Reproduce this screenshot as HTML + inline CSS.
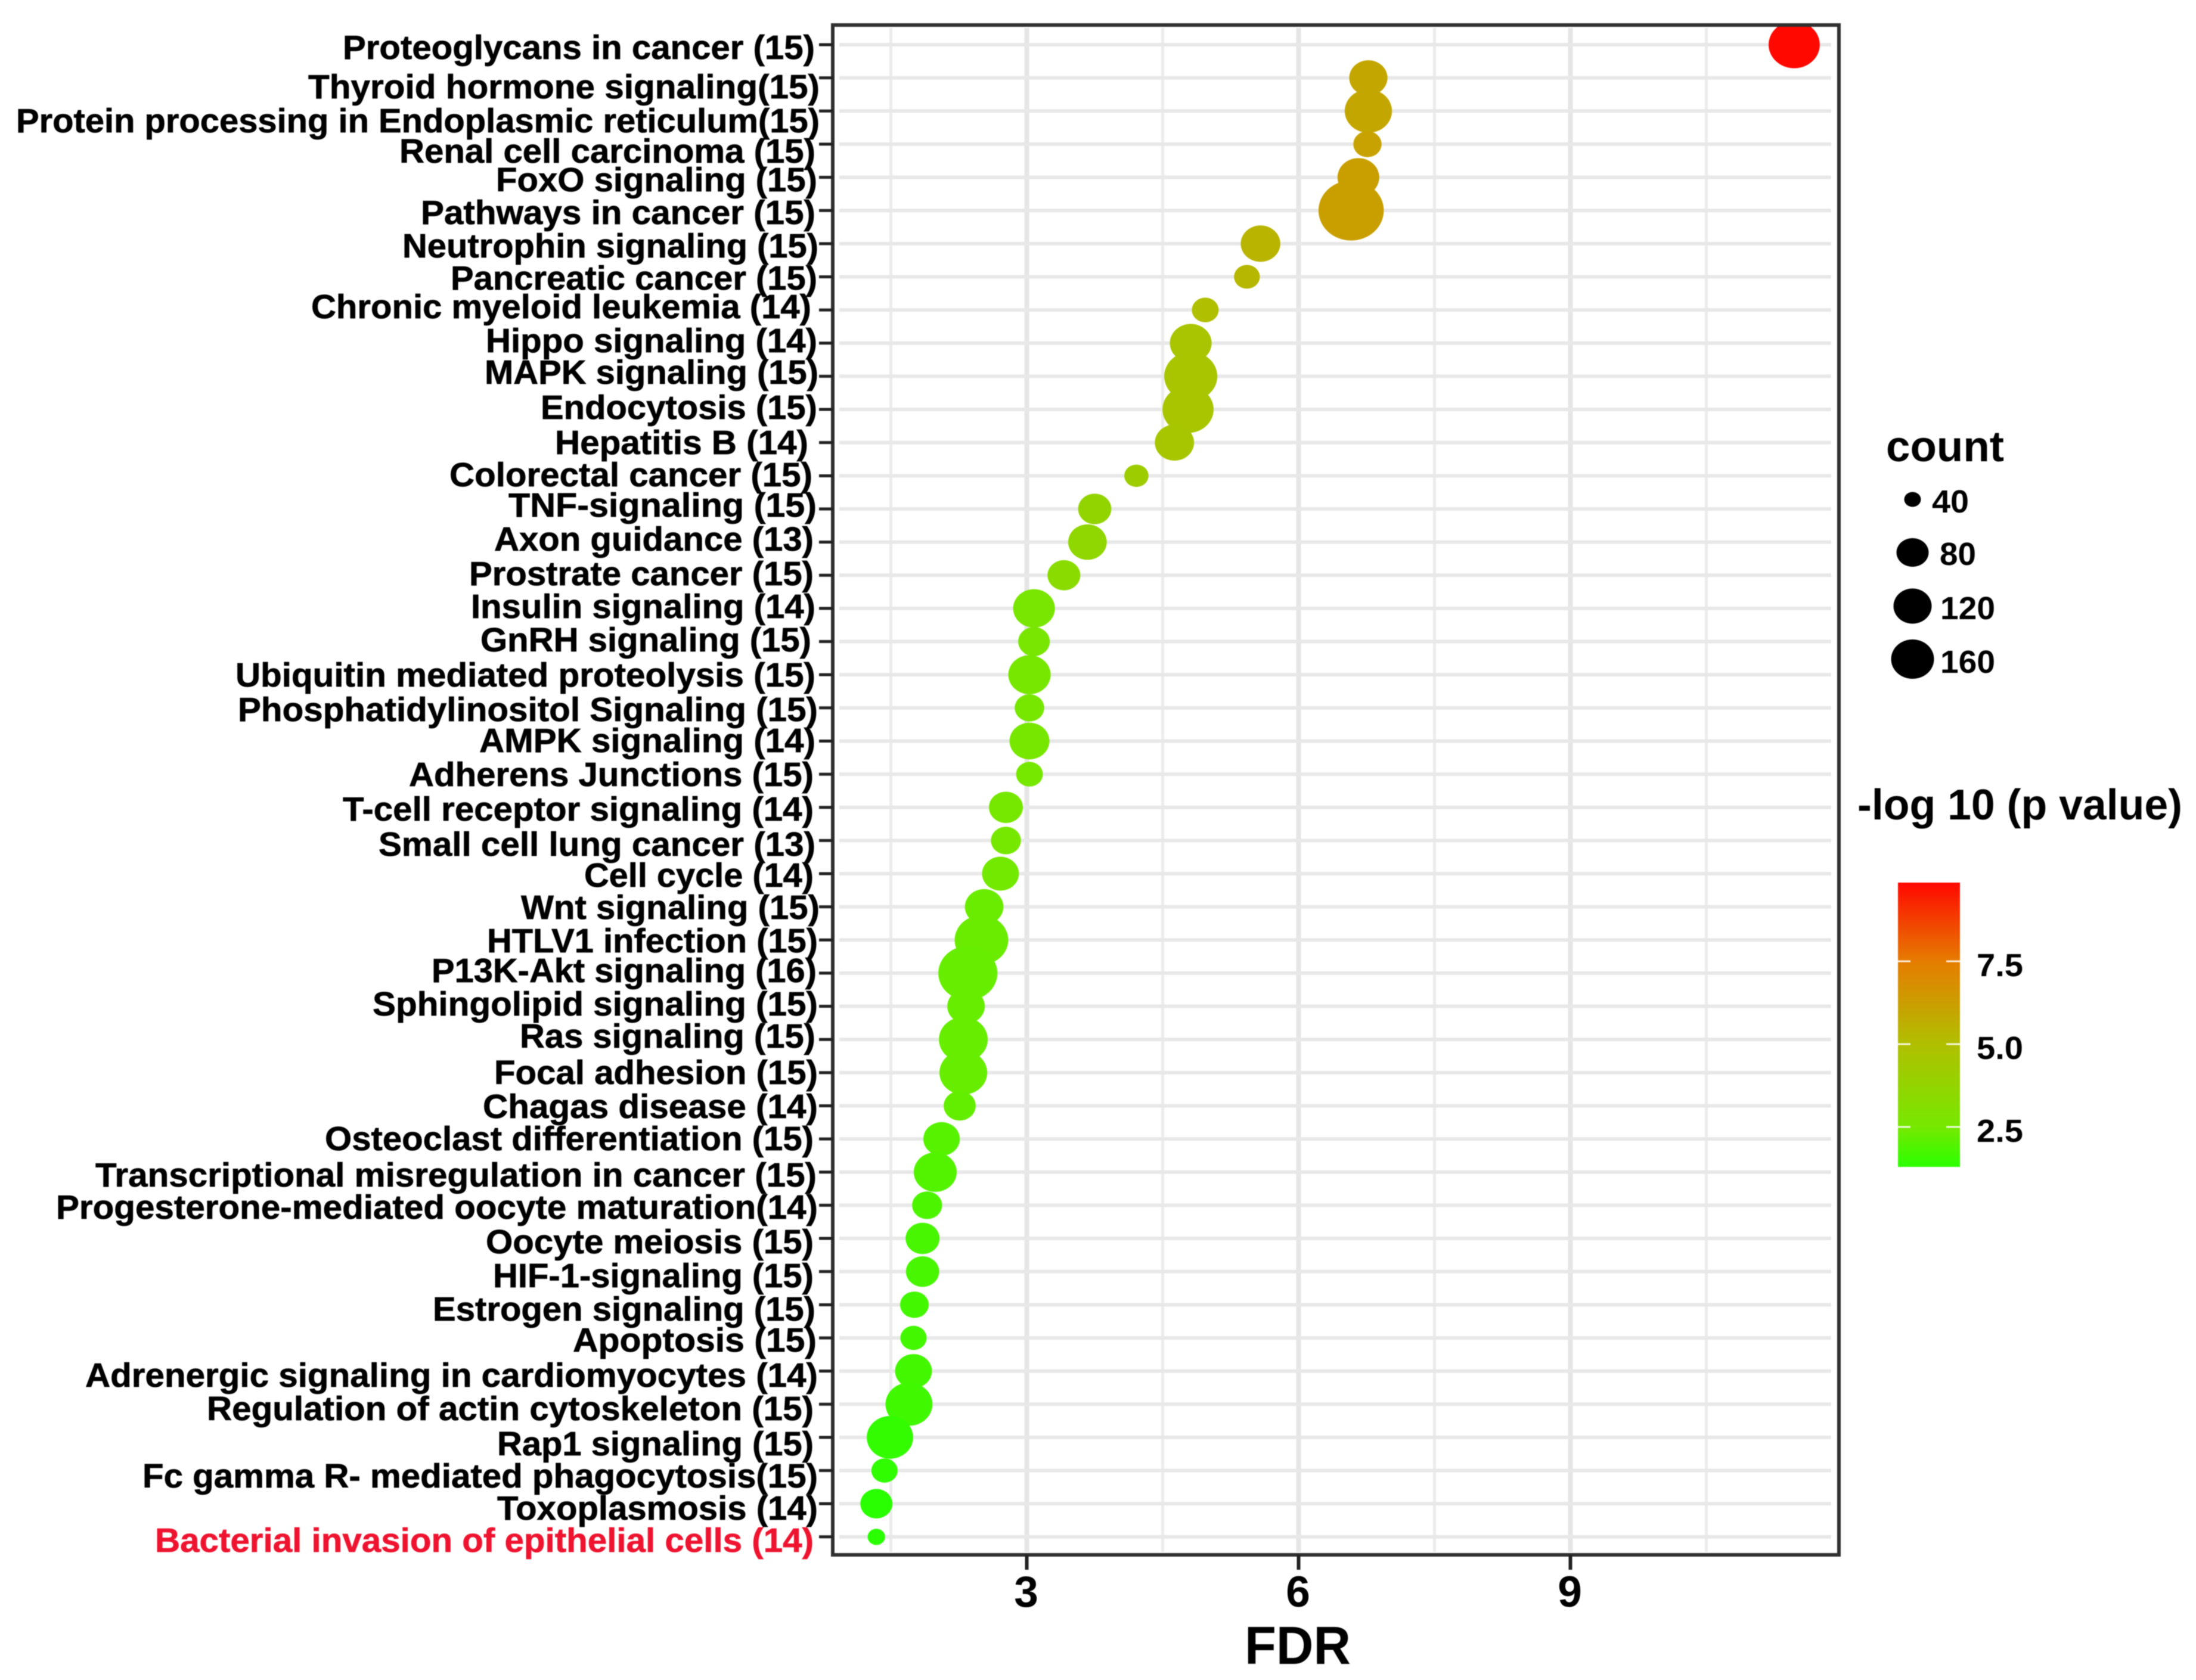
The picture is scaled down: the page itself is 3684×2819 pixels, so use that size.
<!DOCTYPE html>
<html lang="en">
<head>
<meta charset="utf-8">
<title>KEGG pathway enrichment dot plot</title>
<style>
html,body{margin:0;padding:0;background:#fff;}
svg{display:block;filter:blur(0.9px);}
text{font-family:"Liberation Sans",Arial,sans-serif;font-weight:bold;fill:#000;}
#y-labels text{font-size:57px;text-anchor:end;stroke:#000;stroke-width:0.7px;}
#y-labels text.red-label{fill:#ee1430;stroke:#ee1430;}
</style>
</head>
<body>
<svg id="chart" xmlns="http://www.w3.org/2000/svg" width="3684" height="2819" viewBox="0 0 3684 2819">
<defs>
<clipPath id="panel-clip"><rect x="1397" y="42" width="1688" height="2567"/></clipPath>
<linearGradient id="bar-gradient" x1="0" y1="1" x2="0" y2="0"></linearGradient>
</defs>
<rect width="3684" height="2819" fill="#fff"/>
<g id="grid"></g>
<g id="dots" clip-path="url(#panel-clip)"></g>
<rect x="1397" y="42" width="1688" height="2567" fill="none" stroke="#303030" stroke-width="6"/>
<g id="ticks"></g>

<g id="y-labels">
<text x="1367" y="99" textLength="792" lengthAdjust="spacingAndGlyphs">Proteoglycans in cancer (15)</text>
<text x="1375" y="165" textLength="858" lengthAdjust="spacingAndGlyphs">Thyroid hormone signaling(15)</text>
<text x="1375" y="222" textLength="1348" lengthAdjust="spacingAndGlyphs">Protein processing in Endoplasmic reticulum(15)</text>
<text x="1368" y="273" textLength="698" lengthAdjust="spacingAndGlyphs">Renal cell carcinoma (15)</text>
<text x="1371" y="321" textLength="539" lengthAdjust="spacingAndGlyphs">FoxO signaling (15)</text>
<text x="1368" y="376" textLength="662" lengthAdjust="spacingAndGlyphs">Pathways in cancer (15)</text>
<text x="1373" y="432" textLength="698" lengthAdjust="spacingAndGlyphs">Neutrophin signaling (15)</text>
<text x="1371" y="486" textLength="615" lengthAdjust="spacingAndGlyphs">Pancreatic cancer (15)</text>
<text x="1361" y="534" textLength="839" lengthAdjust="spacingAndGlyphs">Chronic myeloid leukemia (14)</text>
<text x="1371" y="591" textLength="556" lengthAdjust="spacingAndGlyphs">Hippo signaling (14)</text>
<text x="1373" y="644" textLength="560" lengthAdjust="spacingAndGlyphs">MAPK signaling (15)</text>
<text x="1371" y="703" textLength="464" lengthAdjust="spacingAndGlyphs">Endocytosis (15)</text>
<text x="1356" y="762" textLength="425" lengthAdjust="spacingAndGlyphs">Hepatitis B (14)</text>
<text x="1363" y="816" textLength="609" lengthAdjust="spacingAndGlyphs">Colorectal cancer (15)</text>
<text x="1370" y="867" textLength="517" lengthAdjust="spacingAndGlyphs">TNF-signaling (15)</text>
<text x="1365" y="924" textLength="536" lengthAdjust="spacingAndGlyphs">Axon guidance (13)</text>
<text x="1365" y="982" textLength="578" lengthAdjust="spacingAndGlyphs">Prostrate cancer (15)</text>
<text x="1368" y="1037" textLength="578" lengthAdjust="spacingAndGlyphs">Insulin signaling (14)</text>
<text x="1361" y="1093" textLength="555" lengthAdjust="spacingAndGlyphs">GnRH signaling (15)</text>
<text x="1368" y="1152" textLength="973" lengthAdjust="spacingAndGlyphs">Ubiquitin mediated proteolysis (15)</text>
<text x="1372" y="1210" textLength="973" lengthAdjust="spacingAndGlyphs">Phosphatidylinositol Signaling (15)</text>
<text x="1368" y="1262" textLength="564" lengthAdjust="spacingAndGlyphs">AMPK signaling (14)</text>
<text x="1365" y="1319" textLength="679" lengthAdjust="spacingAndGlyphs">Adherens Junctions (15)</text>
<text x="1365" y="1377" textLength="790" lengthAdjust="spacingAndGlyphs">T-cell receptor signaling (14)</text>
<text x="1368" y="1436" textLength="733" lengthAdjust="spacingAndGlyphs">Small cell lung cancer (13)</text>
<text x="1365" y="1488" textLength="385" lengthAdjust="spacingAndGlyphs">Cell cycle (14)</text>
<text x="1375" y="1542" textLength="501" lengthAdjust="spacingAndGlyphs">Wnt signaling (15)</text>
<text x="1372" y="1598" textLength="555" lengthAdjust="spacingAndGlyphs">HTLV1 infection (15)</text>
<text x="1370" y="1648" textLength="646" lengthAdjust="spacingAndGlyphs">P13K-Akt signaling (16)</text>
<text x="1372" y="1704" textLength="747" lengthAdjust="spacingAndGlyphs">Sphingolipid signaling (15)</text>
<text x="1368" y="1758" textLength="496" lengthAdjust="spacingAndGlyphs">Ras signaling (15)</text>
<text x="1372" y="1819" textLength="543" lengthAdjust="spacingAndGlyphs">Focal adhesion (15)</text>
<text x="1372" y="1876" textLength="562" lengthAdjust="spacingAndGlyphs">Chagas disease (14)</text>
<text x="1365" y="1930" textLength="820" lengthAdjust="spacingAndGlyphs">Osteoclast differentiation (15)</text>
<text x="1370" y="1991" textLength="1210" lengthAdjust="spacingAndGlyphs">Transcriptional misregulation in cancer (15)</text>
<text x="1372" y="2045" textLength="1278" lengthAdjust="spacingAndGlyphs">Progesterone-mediated oocyte maturation(14)</text>
<text x="1365" y="2103" textLength="550" lengthAdjust="spacingAndGlyphs">Oocyte meiosis (15)</text>
<text x="1365" y="2160" textLength="538" lengthAdjust="spacingAndGlyphs">HIF-1-signaling (15)</text>
<text x="1368" y="2216" textLength="642" lengthAdjust="spacingAndGlyphs">Estrogen signaling (15)</text>
<text x="1370" y="2268" textLength="409" lengthAdjust="spacingAndGlyphs">Apoptosis (15)</text>
<text x="1372" y="2327" textLength="1229" lengthAdjust="spacingAndGlyphs">Adrenergic signaling in cardiomyocytes (14)</text>
<text x="1365" y="2383" textLength="1018" lengthAdjust="spacingAndGlyphs">Regulation of actin cytoskeleton (15)</text>
<text x="1365" y="2442" textLength="531" lengthAdjust="spacingAndGlyphs">Rap1 signaling (15)</text>
<text x="1372" y="2496" textLength="1133" lengthAdjust="spacingAndGlyphs">Fc gamma R- mediated phagocytosis(15)</text>
<text x="1372" y="2550" textLength="538" lengthAdjust="spacingAndGlyphs">Toxoplasmosis (14)</text>
<text class="red-label" x="1365" y="2604" textLength="1105" lengthAdjust="spacingAndGlyphs">Bacterial invasion of epithelial cells (14)</text>
</g>

<g id="x-labels"></g>
<text x="2177" y="2792" font-size="90" text-anchor="middle" textLength="178" lengthAdjust="spacingAndGlyphs">FDR</text>

<g>
<text x="3164" y="774" font-size="72" textLength="198" lengthAdjust="spacingAndGlyphs">count</text>
<ellipse cx="3208.5" cy="838" rx="14" ry="12.5" fill="#000"/>
<ellipse cx="3208.5" cy="927" rx="27" ry="24" fill="#000"/>
<ellipse cx="3208.5" cy="1017" rx="32" ry="29.5" fill="#000"/>
<ellipse cx="3208.5" cy="1106" rx="36" ry="33" fill="#000"/>
<text x="3241" y="860" font-size="54" textLength="62" lengthAdjust="spacingAndGlyphs">40</text>
<text x="3254" y="948" font-size="54" textLength="61" lengthAdjust="spacingAndGlyphs">80</text>
<text x="3255" y="1039" font-size="54" textLength="92" lengthAdjust="spacingAndGlyphs">120</text>
<text x="3255" y="1129" font-size="54" textLength="92" lengthAdjust="spacingAndGlyphs">160</text>
</g>

<g>
<text x="3116" y="1375" font-size="72" textLength="545" lengthAdjust="spacingAndGlyphs">-log 10 (p value)</text>
<rect id="color-bar" x="3184" y="1481" width="104" height="477" fill="url(#bar-gradient)"/>
<g id="color-ticks"></g>
</g>
</svg>

<script>
// ---- chart data ----
const categories = ["Proteoglycans in cancer","Thyroid hormone signaling","Protein processing in Endoplasmic reticulum","Renal cell carcinoma","FoxO signaling","Pathways in cancer","Neutrophin signaling","Pancreatic cancer","Chronic myeloid leukemia","Hippo signaling","MAPK signaling","Endocytosis","Hepatitis B","Colorectal cancer","TNF-signaling","Axon guidance","Prostrate cancer","Insulin signaling","GnRH signaling","Ubiquitin mediated proteolysis","Phosphatidylinositol Signaling","AMPK signaling","Adherens Junctions","T-cell receptor signaling","Small cell lung cancer","Cell cycle","Wnt signaling","HTLV1 infection","P13K-Akt signaling","Sphingolipid signaling","Ras signaling","Focal adhesion","Chagas disease","Osteoclast differentiation","Transcriptional misregulation in cancer","Progesterone-mediated oocyte maturation","Oocyte meiosis","HIF-1-signaling","Estrogen signaling","Apoptosis","Adrenergic signaling in cardiomyocytes","Regulation of actin cytoskeleton","Rap1 signaling","Fc gamma R- mediated phagocytosis","Toxoplasmosis","Bacterial invasion of epithelial cells"];
const fdrValues = [11.47,6.77,6.77,6.76,6.66,6.58,5.58,5.43,4.97,4.81,4.81,4.78,4.63,4.21,3.75,3.67,3.41,3.08,3.08,3.03,3.03,3.03,3.03,2.77,2.77,2.71,2.53,2.50,2.35,2.33,2.30,2.30,2.26,2.06,1.99,1.90,1.85,1.85,1.76,1.75,1.75,1.70,1.49,1.43,1.34,1.34];
const countValues = [102,57,87,31,68,166,61,26,28,68,110,102,60,23,43,58,42,68,39,70,34,62,28,45,35,53,58,112,136,55,93,89,40,52,72,35,45,43,32,27,53,86,84,27,40,12];
const logPValues = [9.87,5.95,5.95,6.1,6.2,6.2,5.4,5.3,5.0,4.7,4.65,4.65,4.6,4.2,3.7,3.6,3.3,2.6,2.6,2.55,2.55,2.55,2.5,2.5,2.5,2.45,2.3,2.3,2.25,2.25,2.25,2.25,2.2,2.0,1.95,1.85,1.75,1.75,1.7,1.7,1.7,1.65,1.45,1.4,1.3,1.3];
const xMajorTicks = [3,6,9];
const xMinorTicks = [1.5,4.5,7.5,10.5];
const colorTickValues = [2.5,5.0,7.5];
const colorTickLabels = ["2.5","5.0","7.5"];

// ---- scales ----
const NS = 'http://www.w3.org/2000/svg';
function xScale(v){ return 1722.5 + (v - 3) * 152; }
function yScale(i){ return 75 + i * 55.64; }
function colorBarY(v){ return 1891 - (v - 2.5) * 55.6; }
function diameter(c){ return 8.5 * Math.sqrt(c); }
const colorDomain = [1.3,2.5,5.0,7.5,9.87];
const colorRange = [[42,255,0],[118,232,0],[176,191,0],[229,124,0],[255,8,0]];
function colorScale(v){
  let k = 0;
  while (k < colorDomain.length - 2 && v > colorDomain[k + 1]) k++;
  const t = Math.max(0, Math.min(1, (v - colorDomain[k]) / (colorDomain[k + 1] - colorDomain[k])));
  const c = colorRange[k].map(function(a, j){ return Math.round(a + (colorRange[k + 1][j] - a) * t); });
  return 'rgb(' + c.join(',') + ')';
}
function slug(s){ return s.toLowerCase().replace(/[^a-z0-9]+/g, '-').replace(/^-|-$/g, ''); }
function make(tag, attrs, parent){
  const el = document.createElementNS(NS, tag);
  Object.keys(attrs).forEach(function(k){ el.setAttribute(k, attrs[k]); });
  parent.appendChild(el);
  return el;
}

const grid = document.getElementById('grid');
const ticks = document.getElementById('ticks');
const dots = document.getElementById('dots');
const xLabels = document.getElementById('x-labels');
const colorTicks = document.getElementById('color-ticks');

// vertical grid
xMinorTicks.forEach(function(v){
  const el = make('line', {x1:xScale(v), x2:xScale(v), y1:47, y2:2604, stroke:'#ececec', 'stroke-width':5}, grid);
  
  
});
xMajorTicks.forEach(function(v){
  const el = make('line', {x1:xScale(v), x2:xScale(v), y1:47, y2:2604, stroke:'#e6e6e6', 'stroke-width':8}, grid);
  
  
  const t = make('line', {x1:xScale(v), x2:xScale(v), y1:2609, y2:2634, stroke:'#222', 'stroke-width':6}, ticks);
  
  
  const lab = make('text', {x:xScale(v) - 1, y:2696, 'font-size':73, 'text-anchor':'middle'}, xLabels);
  lab.textContent = String(v);
  
  
});

// horizontal grid and y ticks, one per category
categories.forEach(function(name, i){
  const g = make('line', {x1:1408, x2:3072, y1:yScale(i), y2:yScale(i), stroke:'#e8e8e8', 'stroke-width':6}, grid);
  
  
  const t = make('line', {x1:1374, x2:1397, y1:yScale(i), y2:yScale(i), stroke:'#222', 'stroke-width':5}, ticks);
  
  
});

// dots
categories.forEach(function(name, i){
  const d = diameter(countValues[i]);
  const el = make('ellipse', {cx:xScale(fdrValues[i]), cy:yScale(i), rx:d / 2, ry:d / 2 * 0.92, fill:colorScale(logPValues[i])}, dots);
  
  
});

// colour bar gradient and ticks
const gradient = document.getElementById('bar-gradient');
colorDomain.forEach(function(v){
  const offset = (1958 - colorBarY(v)) / 477;
  make('stop', {offset:Math.max(0, Math.min(1, offset)), 'stop-color':colorScale(v)}, gradient);
});
colorTickValues.forEach(function(v, i){
  const y = colorBarY(v);
  const a = make('line', {x1:3184, x2:3205, y1:y, y2:y, stroke:'#fff', 'stroke-width':3, 'stroke-opacity':0.85}, colorTicks);
  
  
  const b = make('line', {x1:3265, x2:3288, y1:y, y2:y, stroke:'#fff', 'stroke-width':3, 'stroke-opacity':0.85}, colorTicks);
  
  
  const lab = make('text', {x:3316, y:y + 25, 'font-size':54, textLength:78, lengthAdjust:'spacingAndGlyphs'}, colorTicks);
  lab.textContent = colorTickLabels[i];
  
  
});
</script>
</body>
</html>
